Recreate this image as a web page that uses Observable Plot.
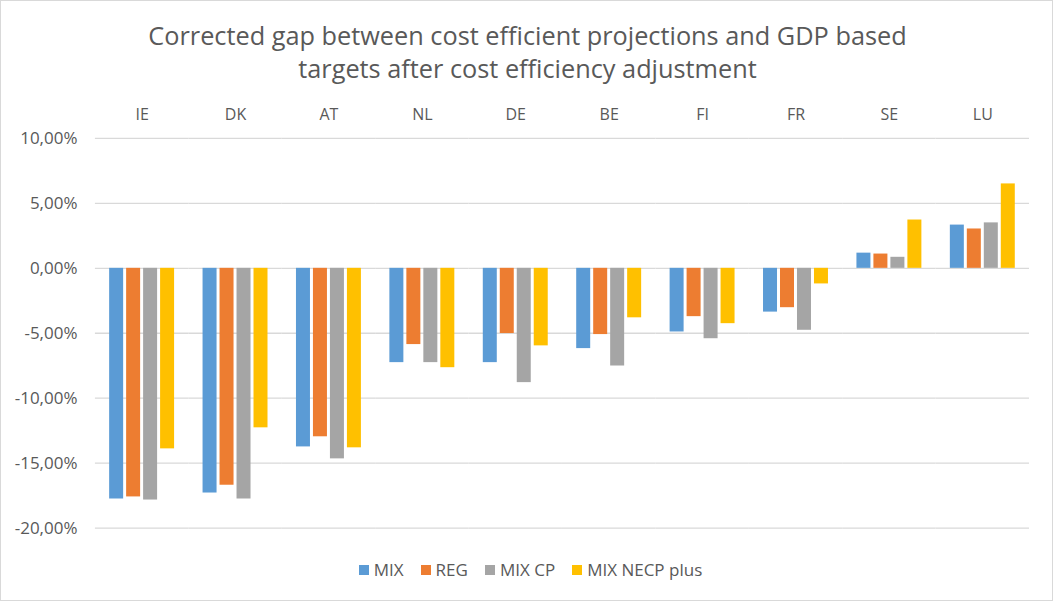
<!DOCTYPE html>
<html>
<head>
<meta charset="utf-8">
<script src="https://cdn.jsdelivr.net/npm/d3@7"></script>
<script src="https://cdn.jsdelivr.net/npm/@observablehq/plot@0.6"></script>
<style>
  html, body { margin: 0; padding: 0; background: #fff; }
  #wrap { position: relative; width: 1053px; height: 601px; box-sizing: border-box; border: 1px solid #d9d9d9; overflow: hidden; font-family: "Open Sans", sans-serif; color: #595959; }
  #title { position: absolute; left: 0; top: 18px; width: 1053px; text-align: center; font-size: 25.3px; line-height: 33px; color: #595959; }
  #chart { position: absolute; left: -1px; top: 94px; }
  #legend { position: absolute; left: 0; top: 557px; width: 1053px; display: flex; justify-content: center; gap: 17px; font-size: 17px; color: #595959; padding-left: 6px; box-sizing: border-box; }
  .item { display: flex; align-items: center; gap: 5px; }
  .sw { width: 10px; height: 10px; display: inline-block; }
</style>
</head>
<body>
<div id="wrap">
  <div id="title">Corrected gap between cost efficient projections and GDP based<br>targets after cost efficiency adjustment</div>
  <div id="chart"></div>
  <div id="legend"></div>
</div>
<script>
const countries = ["IE", "DK", "AT", "NL", "DE", "BE", "FI", "FR", "SE", "LU"];
const series = ["MIX", "REG", "MIX CP", "MIX NECP plus"];
const colors = ["#5b9bd5", "#ed7d31", "#a5a5a5", "#ffc000"];
const mix    = [-17.76, -17.30, -13.75, -7.26, -7.26, -6.18, -4.90, -3.37, 1.17, 3.33];
const reg    = [-17.60, -16.70, -12.97, -5.87, -5.02, -5.10, -3.72, -3.03, 1.10, 3.03];
const mixCp  = [-17.84, -17.76, -14.67, -7.26, -8.80, -7.52, -5.42, -4.77, 0.85, 3.50];
const necp   = [-13.90, -12.28, -13.82, -7.65, -5.97, -3.81, -4.26, -1.20, 3.72, 6.50];
const yTicks = [-20, -15, -10, -5, 0, 5, 10];

const valuesBySeries = [mix, reg, mixCp, necp];
const data = [];
countries.forEach((c, i) => {
  series.forEach((s, j) => data.push({country: c, series: s, value: valuesBySeries[j][i]}));
});

const fmt = d => d.toFixed(2).replace(".", ",") + "%";

const chart = Plot.plot({
  width: 1053,
  height: 443,
  marginTop: 43,
  marginBottom: 10,
  marginLeft: 95,
  marginRight: 23,
  style: {fontFamily: "Open Sans, sans-serif", fontSize: "16px", color: "#595959", background: "transparent"},
  fx: {domain: countries, padding: 0, round: false, axis: "top", tickSize: 0, tickPadding: 18, label: null},
  x: {domain: series, paddingInner: 0.176, paddingOuter: 0.838, axis: null, round: false},
  y: {domain: [-20, 10], ticks: yTicks, tickFormat: fmt, tickSize: 0, tickPadding: 18, label: null},
  color: {domain: series, range: colors},
  marks: [
    Plot.ruleY(yTicks, {stroke: "#d9d9d9", strokeWidth: 1.3}),
    Plot.barY(data, {fx: "country", x: "series", y: "value", fill: "series"}),
    Plot.axisY({ticks: yTicks, tickFormat: fmt, tickSize: 0, tickPadding: 18, fontSize: 17, label: null})
  ]
});
document.getElementById("chart").appendChild(chart);

const legend = document.getElementById("legend");
series.forEach((s, i) => {
  const it = document.createElement("div");
  it.className = "item";
  const sw = document.createElement("span");
  sw.className = "sw";
  sw.style.background = colors[i];
  it.appendChild(sw);
  it.appendChild(document.createTextNode(s));
  legend.appendChild(it);
});
</script>
</body>
</html>
